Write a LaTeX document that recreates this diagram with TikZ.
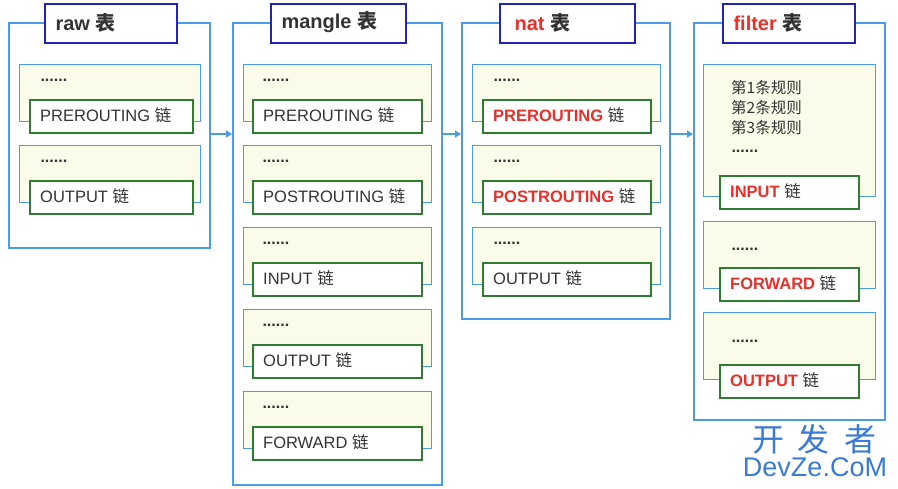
\documentclass[tikz,border=0pt]{standalone}
\usepackage{fontspec}
\setmainfont{Liberation Sans}
\newfontfamily\cjk{Noto Sans CJK SC}
\usetikzlibrary{arrows.meta}
\definecolor{tblue}{HTML}{4A9BE8}
\definecolor{dblue}{HTML}{2323B8}
\definecolor{cgreen}{HTML}{2E7D32}
\definecolor{cfill}{HTML}{FBFBEA}
\definecolor{cred}{HTML}{E8302A}
\definecolor{ctext}{HTML}{333333}
\definecolor{wm}{HTML}{3A7BD5}
\newcommand{\lian}{{\cjk 链}}
\newcommand{\biao}{{\cjk 表}}
\tikzset{
  tbl/.style={draw=tblue,line width=1.6pt,fill=white,anchor=north west,inner sep=0},
  ttl/.style={draw=dblue,line width=1.6pt,fill=white,anchor=north west,inner sep=0},
  ttltext/.style={anchor=west,font=\fontsize{20}{22}\selectfont\bfseries,text=ctext},
  outerc/.style={draw=tblue,line width=1.4pt,fill=cfill,anchor=north west,inner sep=0},
  grn/.style={draw=cgreen,line width=1.6pt,fill=white,anchor=north west,inner sep=0},
  dots/.style={anchor=west,text=ctext,font=\fontsize{16}{18}\selectfont\bfseries},
}
% #1 name, #2 x1, #3 x2, #4 ytop, #5 ybot, #6 gx1, #7 gx2, #8 gtop, #9 label
\newcommand{\chainbox}[9]{%
  \node[outerc,minimum width=#3-#2,minimum height=#5-#4] (#1o) at (#2,#4) {};
  \node[grn,minimum width=#7-#6,minimum height=33] (#1g) at (#6,#8) {};
  \node[anchor=west,text=ctext,font=\fontsize{16.5}{18}\selectfont,inner sep=0] (#1t) at (#6+11,#8+16.5) {#9};
}
\begin{document}
\begin{tikzpicture}[x=1pt,y=-1pt]
\useasboundingbox[fill=white] (0,0) rectangle (898,489);
% raw
\node[tbl,minimum width=201,minimum height=225] (raw) at (8,22) {};
\node[ttl,minimum width=132,minimum height=39] (rawt) at (44,3) {};
\node[ttltext] (rawl) at (52,22.5) {raw \biao};
\chainbox{r1}{19}{200}{64}{121}{29}{192}{99}{PREROUTING \lian}
\node[dots] (r1d) at (37,80) {......};
\chainbox{r2}{19}{200}{145}{202}{29}{192}{180}{OUTPUT \lian}
\node[dots] (r2d) at (37,161) {......};
% mangle
\node[tbl,minimum width=209,minimum height=462] (man) at (232,22) {};
\node[ttl,minimum width=135,minimum height=39] (mant) at (270,3) {};
\node[ttltext] (manl) at (278,22.5) {mangle \biao};
\chainbox{m1}{243}{431}{64}{121}{252}{421}{99}{PREROUTING \lian}
\node[dots] (m1d) at (259,80) {......};
\chainbox{m2}{243}{431}{145}{202}{252}{421}{180}{POSTROUTING \lian}
\node[dots] (m2d) at (259,161) {......};
\chainbox{m3}{243}{431}{227}{284}{252}{421}{262}{INPUT \lian}
\node[dots] (m3d) at (259,243) {......};
\chainbox{m4}{243}{431}{309}{366}{252}{421}{344}{OUTPUT \lian}
\node[dots] (m4d) at (259,325) {......};
\chainbox{m5}{243}{431}{391}{448}{252}{421}{426}{FORWARD \lian}
\node[dots] (m5d) at (259,407) {......};
% nat
\node[tbl,minimum width=208,minimum height=296] (nat) at (461,22) {};
\node[ttl,minimum width=135,minimum height=39] (natt) at (499,3) {};
\node[ttltext] (natl) at (511,22.5) {{\color{cred}nat} \biao};
\chainbox{n1}{472}{660}{64}{121}{482}{650}{99}{{\color{cred}\bfseries PREROUTING} \lian}
\node[dots] (n1d) at (490,80) {......};
\chainbox{n2}{472}{660}{145}{202}{482}{650}{180}{{\color{cred}\bfseries POSTROUTING} \lian}
\node[dots] (n2d) at (490,161) {......};
\chainbox{n3}{472}{660}{227}{284}{482}{650}{262}{OUTPUT \lian}
\node[dots] (n3d) at (490,243) {......};
% filter
\node[tbl,minimum width=191,minimum height=397] (fil) at (693,22) {};
\node[ttl,minimum width=132,minimum height=39] (filt) at (722,3) {};
\node[ttltext] (fill) at (730,22.5) {{\color{cred}filter} \biao};
\chainbox{f1}{703}{875}{64}{196}{719}{858}{175}{{\color{cred}\bfseries INPUT} \lian}
\node[anchor=north west,text=ctext,font=\fontsize{15.5}{20}\selectfont\cjk,align=left,inner sep=0] (f1r) at (731,80) {第1条规则\\第2条规则\\第3条规则};
\node[dots] (f1d) at (728,151) {......};
\chainbox{f2}{703}{875}{221}{288}{719}{858}{267}{{\color{cred}\bfseries FORWARD} \lian}
\node[dots] (f2d) at (728,249) {......};
\chainbox{f3}{703}{875}{312}{379}{719}{858}{364}{{\color{cred}\bfseries OUTPUT} \lian}
\node[dots] (f3d) at (728,341) {......};
% arrows
\coordinate (a1s) at (209,134); \coordinate (a1e) at (232,134);
\coordinate (a2s) at (441,134); \coordinate (a2e) at (461,134);
\coordinate (a3s) at (669,134); \coordinate (a3e) at (693,134);
\draw[draw=tblue,line width=1.4pt,-{Triangle[length=6pt,width=7pt]}] (a1s) -- (a1e);
\draw[draw=tblue,line width=1.4pt,-{Triangle[length=6pt,width=7pt]}] (a2s) -- (a2e);
\draw[draw=tblue,line width=1.4pt,-{Triangle[length=6pt,width=7pt]}] (a3s) -- (a3e);
% watermark
\node[text=wm,font=\fontsize{32}{34}\selectfont\cjk] (wm1) at (814,439) {开\hspace{14pt}发\hspace{14pt}者};
\node[text=wm,font=\fontsize{27}{29}\selectfont] (wm2) at (815,467) {DevZe.CoM};
\end{tikzpicture}
\end{document}
